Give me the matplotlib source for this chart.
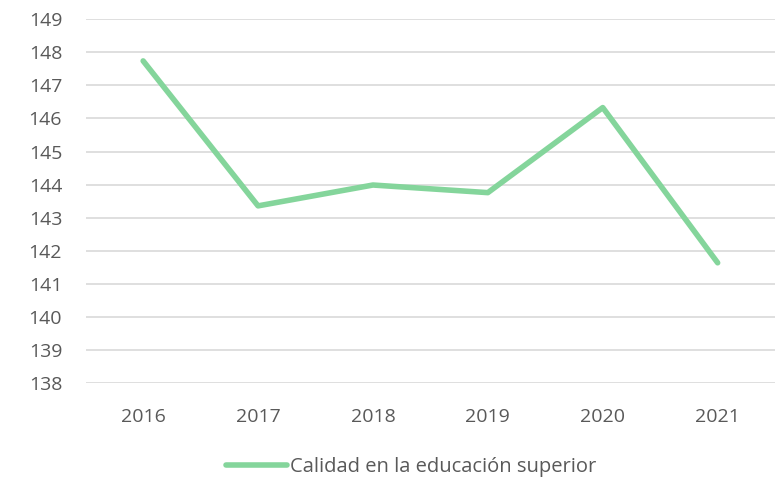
import matplotlib
matplotlib.use("Agg")
import matplotlib.pyplot as plt

# Datos de la serie
years = ["2016", "2017", "2018", "2019", "2020", "2021"]
calidad = [147.74, 143.36, 143.99, 143.76, 146.33, 141.64]
y_ticks = list(range(138, 150))
serie_label = "Calidad en la educación superior"

text_color = "#595959"
grid_color = "#d9d9d9"
line_color = "#84d59b"

plt.rcParams["font.family"] = ["Open Sans", "DejaVu Sans"]

fig = plt.figure(figsize=(7.79, 4.8), dpi=100)
ax = fig.add_axes([0.110, 0.2015, 0.885, 0.7585])

x = list(range(len(years)))
ax.plot(x, calidad, color=line_color, linewidth=4.0,
        solid_capstyle="round", solid_joinstyle="round", label=serie_label)

ax.set_xlim(-0.5, len(years) - 0.5)
ax.set_ylim(138, 149)
ax.set_yticks(y_ticks)
ax.set_xticks(x)
ax.set_xticklabels(years)

ax.grid(axis="y", color=grid_color, linewidth=1.2)
ax.set_axisbelow(True)
for s in ax.spines.values():
    s.set_visible(False)
ax.tick_params(axis="both", length=0, labelsize=14, labelcolor=text_color)
ax.tick_params(axis="y", pad=17)
ax.tick_params(axis="x", pad=18)

leg = fig.legend(loc="center", bbox_to_anchor=(0.528, 0.027), frameon=False,
                 fontsize=14.5, handlelength=3.0, handletextpad=0.15)
for t in leg.get_texts():
    t.set_color(text_color)

fig.savefig("out.png", dpi=100)
